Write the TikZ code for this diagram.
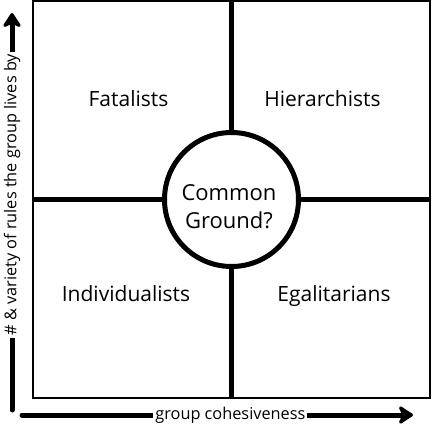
\documentclass[tikz,border=0pt]{standalone}
\usepackage{fontspec}
\setmainfont{Open Sans}
\usetikzlibrary{arrows.meta}
\begin{document}
\begin{tikzpicture}[x=1pt,y=-1pt,
  frame/.style={line width=2pt},
  divider/.style={line width=5pt},
  axis/.style={line width=5pt,line cap=round,-{Stealth[length=17pt,width=22pt,inset=5pt,round]}},
  quad/.style={font=\fontsize{21}{24}\selectfont,anchor=base},
  axlabel/.style={fill=white,inner sep=2pt,font=\fontsize{16.3}{19}\selectfont}]
\useasboundingbox (0,0) rectangle (432,432);
% frame
\draw[frame] (33,1) rectangle (429.5,398);
% dividers
\coordinate (top) at (231,0);
\coordinate (bot) at (231,398);
\coordinate (lft) at (33,199);
\coordinate (rgt) at (429,199);
\draw[divider] (top) -- (bot);
\draw[divider] (lft) -- (rgt);
% circle
\node[circle,draw,line width=5pt,fill=white,minimum size=134pt,inner sep=0pt] (cg) at (231.5,199.5) {};
\node[font=\fontsize{22}{28}\selectfont,align=center,anchor=base] (cgt) at (229,228) {Common\\Ground?};
% quadrant labels
\node[quad] (fat) at (128.5,106.5) {Fatalists};
\node[quad] (hier) at (322.5,106.5) {Hierarchists};
\node[quad] (ind) at (126,301.5) {Individualists};
\node[quad] (ega) at (334,301.5) {Egalitarians};
% axes
\coordinate (ys) at (12,410);
\coordinate (ye) at (12,13);
\draw[axis] (ys) -- (ye) node[axlabel,pos=0.542,rotate=90] (ylab) {\# \& variety of rules the group lives by};
\coordinate (xs) at (22,415);
\coordinate (xe) at (413,415);
\draw[axis] (xs) -- (xe) node[axlabel,pos=0.533] (xlab) {group cohesiveness};
\end{tikzpicture}
\end{document}
